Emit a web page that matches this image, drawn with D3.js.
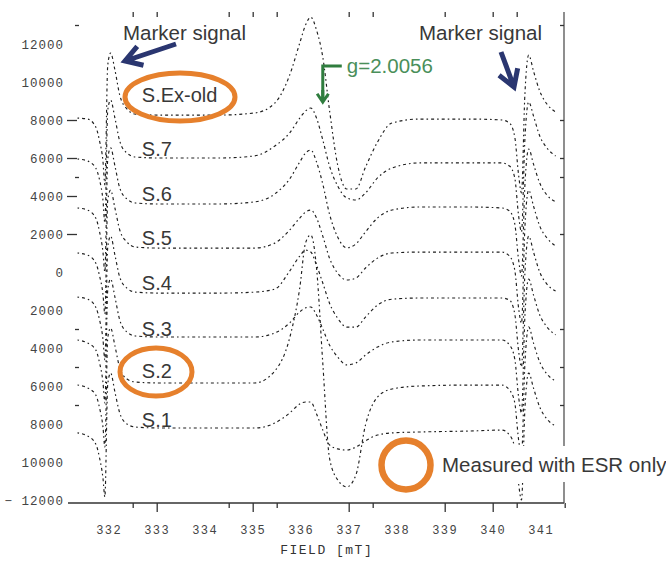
<!DOCTYPE html>
<html><head><meta charset="utf-8">
<script src="https://cdn.jsdelivr.net/npm/d3@7/dist/d3.min.js"></script>
<style>body{margin:0;background:#fff;} svg{display:block}</style>
</head><body>
<svg id="c" width="666" height="563"></svg>
<script>
// ---------- DATA ----------
// magnetic field sampling points (mT)
const fields = [331.35,331.56,331.73,331.81,331.88,331.92,331.98,332.04,332.13,332.23,332.38,332.56,333.06,334.31,
  335.04,335.46,335.77,335.98,336.10,336.21,336.33,336.46,336.60,336.77,336.96,337.15,337.35,337.60,337.90,338.48,339.52,340.19,
  340.35,340.46,340.54,340.60,340.67,340.75,340.85,340.98,341.13,341.31];

const seriesNames = ["S.Ex-old","S.7","S.6","S.5","S.4","S.3","S.2","S.1"];
// vertical offset of each stacked spectrum (intensity units)
const offsets = [8260, 6000, 3580, 1260, -1110, -3420, -5840, -8210];

// spectra relative to their offset (intensity units)
const sExOld = [-160,-210,-630,-1370,-2420,-3680,2630,3260,2370,1050,320,50,0,0,
  110,630,2100,3790,4730,5150,4470,3050,260,-2630,-3890,-3890,-2740,-1420,-420,-210,-210,-260,
  -420,-1160,-3160,-4100,1050,3160,2310,1260,580,160];
const s7 = [-50,-160,-530,-1160,-2210,-3420,2520,3050,2100,890,260,50,0,0,
  110,630,1320,2100,2470,2630,2100,950,-420,-1470,-2100,-2210,-1840,-1050,-530,-260,-260,-260,
  -420,-1050,-3050,-3890,950,2950,2210,1160,530,110];
const s6 = [-210,-320,-740,-1470,-2520,-3580,2370,2950,2000,840,260,50,0,0,
  110,530,1320,2210,2680,2840,2210,1050,-530,-1740,-2310,-2100,-1470,-740,-320,-160,-160,-210,
  -370,-1050,-2950,-3790,950,2890,2100,1100,470,110];
const s5 = [-260,-370,-790,-1470,-2420,-3470,2520,3050,2100,950,320,50,0,0,
  0,260,950,1580,1890,2000,1580,630,-530,-1320,-1680,-1580,-1050,-530,-260,-210,-210,-210,
  -420,-1160,-3160,-3950,1050,3050,2210,1160,530,110];
const s4 = [-210,-320,-740,-1420,-2420,-3520,2420,3000,2000,840,260,50,0,0,
  50,210,1160,1950,2260,2160,1470,530,-530,-1320,-1790,-1790,-1260,-630,-320,-260,-260,-260,
  -370,-1100,-3050,-3890,1000,3000,2160,1100,470,110];
const s3 = [-160,-320,-680,-1370,-2370,-3470,2470,3050,2100,890,260,50,0,0,
  0,210,740,1320,1530,1580,1160,420,-420,-1050,-1470,-1370,-950,-530,-260,-160,-160,-160,
  -420,-1160,-3160,-4000,1050,3050,2210,1160,530,110];
const s2 = [-110,-260,-630,-1320,-2310,-3370,2370,2890,1950,790,210,50,0,0,
  0,630,2370,5000,7360,7790,6050,1050,-3950,-5100,-5470,-4840,-2210,-740,-320,-160,-110,-110,
  -370,-1050,-3000,-3840,950,2950,2100,1100,470,110];
const s1 = [-260,-420,-840,-1580,-2630,-3630,2310,2890,1890,790,210,50,0,0,
  0,260,790,1260,1370,1370,740,-110,-890,-1100,-1160,-1000,-680,-370,-260,-210,-160,-110,
  -370,-1050,-2950,-3790,950,2890,2100,1100,470,110];
const seriesValues = [sExOld, s7, s6, s5, s4, s3, s2, s1];
const measuredWithEsrOnly = ["S.Ex-old", "S.2"];

const yTickValues = [12000,10000,8000,6000,4000,2000,0,-2000,-4000,-6000,-8000,-10000,-12000];
const yTickLabels = ["12000","10000","8000","6000","4000","2000","0","2000","4000","6000","8000","10000","\u2212 12000"];
const yDashTicks = [8000,6000,4000,2000];
const yMinorTicks = [13000,5000,-3000,-5000,-7000];
const yRightTicks = [13000,8000,6000,5000,2000,-3000,-5000,-7000];
const xTickLabels = [332,333,334,335,336,337,338,339,340,341];
const xMajorTicks = [333,335,337,339,340];
const xMinorTicks = [332.5,334.5,335.5,337.5,340.5,341.5];
const gFactorField = 336.46;

// ---------- LAYOUT ----------
const svg = d3.select("#c");
const x = d3.scaleLinear().domain([332, 341]).range([108.7, 540.7]);
const y = d3.scaleLinear().domain([-12000, 12000]).range([500, 44]);
const axisY = 503, topY = 12, leftX = 68, rightX = 564;
const monoFont = "'Liberation Mono','DejaVu Sans Mono',monospace";
const sansFont = "'Liberation Sans',Arial,Helvetica,sans-serif";
const labelDy = [-13,-2,-3,-3,-3,-1,-5,-1];
const orange = "#e6802c", navy = "#2a3670", green = "#2f7d3e";

// ---------- AXES ----------
svg.append("line").attr("x1",leftX).attr("x2",rightX).attr("y1",axisY).attr("y2",axisY)
  .attr("stroke","#333").attr("stroke-width",1.3);
svg.append("line").attr("x1",rightX).attr("x2",rightX).attr("y1",topY).attr("y2",axisY)
  .attr("stroke","#444").attr("stroke-width",1.2);

const bMaj = svg.append("g").attr("transform",`translate(0,${axisY})`)
  .call(d3.axisBottom(x).tickValues(xMajorTicks).tickSize(9).tickFormat(""));
const bMin = svg.append("g").attr("transform",`translate(0,${axisY})`)
  .call(d3.axisBottom(x).tickValues(xMinorTicks).tickSize(5).tickFormat(""));
const bLab = svg.append("g").attr("transform",`translate(0,${axisY})`)
  .call(d3.axisBottom(x).tickValues(xTickLabels).tickSize(0).tickPadding(22).tickFormat(d3.format("d")));
const tTop = svg.append("g").attr("transform",`translate(0,${topY})`)
  .call(d3.axisBottom(x).tickValues(xMajorTicks.concat(xMinorTicks.filter(v=>v<341))).tickSize(5).tickFormat(""));
[bMaj,bMin,bLab,tTop].forEach(g=>{
  g.select(".domain").remove();
  g.selectAll("line").attr("stroke","#333").attr("stroke-width",1.3);
});
bLab.selectAll("text").attr("font-family",monoFont).attr("font-size",12)
  .attr("letter-spacing","1.5px").attr("fill","#444");

const yAx = svg.append("g").attr("transform","translate(64,0)")
  .call(d3.axisLeft(y).tickValues(yTickValues).tickSize(0).tickPadding(0)
    .tickFormat((d,i)=>yTickLabels[i]));
yAx.select(".domain").remove();
yAx.selectAll("text").attr("font-family",monoFont).attr("font-size",12.5)
  .attr("letter-spacing","1px").attr("fill","#444");

const yDash = svg.append("g").attr("transform","translate(77,0)")
  .call(d3.axisLeft(y).tickValues(yDashTicks).tickSize(10).tickFormat(""));
const yMin = svg.append("g").attr("transform","translate(79,0)")
  .call(d3.axisLeft(y).tickValues(yMinorTicks).tickSize(4).tickFormat(""));
const yRight = svg.append("g").attr("transform",`translate(${rightX},0)`)
  .call(d3.axisLeft(y).tickValues(yRightTicks).tickSize(4).tickFormat(""));
[yDash,yMin,yRight].forEach(g=>{
  g.select(".domain").remove();
  g.selectAll("line").attr("stroke","#333").attr("stroke-width",1.3);
});
svg.append("text").attr("x",(x(332)+x(341))/2+2).attr("y",554).attr("text-anchor","middle")
  .attr("font-family",monoFont).attr("font-size",13).attr("letter-spacing","1.5px")
  .attr("fill","#333").text("FIELD [mT]");

// ---------- SPECTRA ----------
const line = d3.line().x((d,i)=>x(fields[i])).y(d=>y(d)).curve(d3.curveMonotoneX);
seriesValues.forEach((vals,k)=>{
  svg.append("path").attr("d", line(vals.map(v=>v+offsets[k])))
    .attr("fill","none").attr("stroke","#1e1e1e").attr("stroke-width",1.15)
    .attr("stroke-dasharray","1.6,3,3,3");
});

// series labels
seriesNames.forEach((n,k)=>{
  svg.append("text").attr("x",x(332.69)).attr("y",y(offsets[k])+labelDy[k])
    .attr("font-family",sansFont).attr("font-size",20).attr("fill","#383838").text(n);
});

// orange ellipses for samples measured with ESR only
const ellipseGeom = {"S.Ex-old":{cx:180,cy:97,rx:55,ry:24},"S.2":{cx:156,cy:372,rx:36,ry:24}};
measuredWithEsrOnly.forEach(n=>{
  const e = ellipseGeom[n];
  svg.append("ellipse").attr("cx",e.cx).attr("cy",e.cy).attr("rx",e.rx).attr("ry",e.ry)
    .attr("fill","none").attr("stroke",orange).attr("stroke-width",5);
});

// legend (white box)
svg.append("rect").attr("x",374).attr("y",446).attr("width",292).attr("height",36).attr("fill","#fff");
svg.append("circle").attr("cx",406).attr("cy",465).attr("r",24.5).attr("fill","none")
  .attr("stroke",orange).attr("stroke-width",6.5);
svg.append("text").attr("x",442).attr("y",472).attr("font-family",sansFont).attr("font-size",20.5)
  .attr("fill","#383838").text("Measured with ESR only");

// arrows
function arrow(x1,y1,x2,y2,color,w,hl,ha){
  const a = Math.atan2(y2-y1,x2-x1);
  const p = `M${x1},${y1}L${x2},${y2}` +
    `M${x2-hl*Math.cos(a-ha)},${y2-hl*Math.sin(a-ha)}L${x2},${y2}L${x2-hl*Math.cos(a+ha)},${y2-hl*Math.sin(a+ha)}`;
  svg.append("path").attr("d",p).attr("fill","none").attr("stroke",color).attr("stroke-width",w)
    .attr("stroke-linejoin","miter").attr("stroke-linecap","butt");
}
svg.append("text").attr("x",123).attr("y",40).attr("font-family",sansFont).attr("font-size",20.5)
  .attr("fill","#383838").text("Marker signal");
arrow(176,44,125,61,navy,5,19,0.55);
svg.append("text").attr("x",419).attr("y",40).attr("font-family",sansFont).attr("font-size",20.5)
  .attr("fill","#383838").text("Marker signal");
arrow(501,52,514,87,navy,5,19,0.55);

// g-factor annotation
const gx = x(gFactorField);
svg.append("path").attr("d",`M${gx+19},66H${gx}V101`).attr("fill","none").attr("stroke",green).attr("stroke-width",3);
arrow(gx,90,gx,102,green,3,10,0.6);
svg.append("text").attr("x",gx+24).attr("y",73).attr("font-family",sansFont).attr("font-size",20.5)
  .attr("fill","#4a8f5a").text("g=2.0056");
</script>
</body></html>
